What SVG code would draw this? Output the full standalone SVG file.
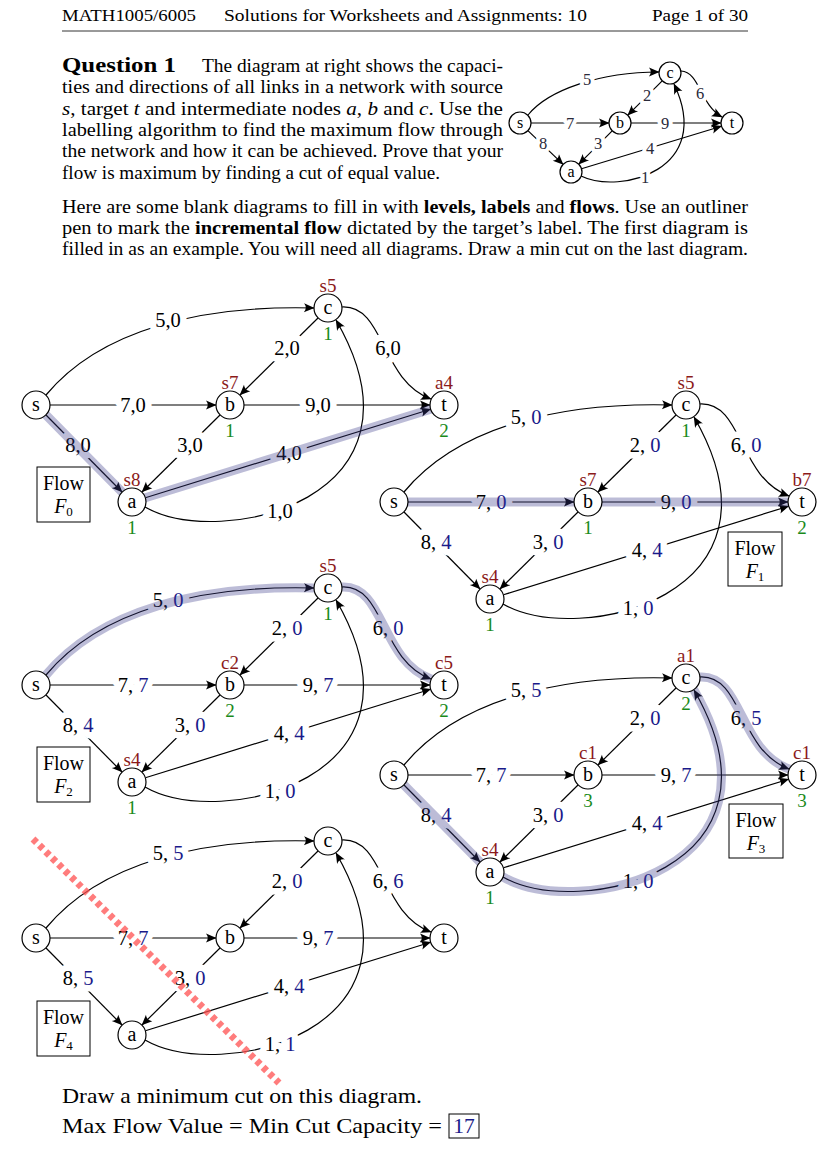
<svg xmlns="http://www.w3.org/2000/svg" xmlns:xlink="http://www.w3.org/1999/xlink" width="837" height="1152" viewBox="0 0 837 1152">
<style>
text{font-family:"Liberation Serif","Times New Roman",serif;fill:#000}
.tx{font-size:18px}
.ft{font-size:21.5px}
.hd{font-size:17px}
.nd{fill:#fff;stroke:#000;stroke-width:1.2}
.nl{font-size:20px;text-anchor:middle}
.snl{font-size:16px;text-anchor:middle}
.e{fill:none;stroke:#000;stroke-width:1.2;marker-end:url(#ar)}
.hl{fill:none;stroke:#3a3a8a;stroke-opacity:.34;stroke-width:9;stroke-linecap:round}
.lb{font-size:20.5px;text-anchor:middle;stroke:#fff;stroke-width:13;stroke-linejoin:round;paint-order:stroke}
.slb{font-size:16.5px;text-anchor:middle;fill:#2a2a3a;stroke:#fff;stroke-width:8;stroke-linejoin:round;paint-order:stroke}
.fv{fill:#1a1a8a}
.rl{font-size:19px;text-anchor:middle;fill:#8b1a1a}
.gl{font-size:19px;text-anchor:middle;fill:#1a8a1a}
.box{fill:none;stroke:#000;stroke-width:1}
.bt{font-size:20px;text-anchor:middle}
.it{font-style:italic}
.b{font-weight:bold}
</style>
<defs>
<marker id="ar" viewBox="-11 -6 12 12" refX="0" refY="0" markerWidth="12" markerHeight="12" orient="auto" markerUnits="userSpaceOnUse">
<path d="M0.5,0 L-10,-4.5 Q-6.5,0 -10,4.5 Z" fill="#000"/>
</marker>
<path id="sc" d="M46,395 C100,330 200,305 314,308"/>
<path id="ct" d="M342,307 C385,305 380,380 431,399"/>
<path id="cb" d="M318,318 L240,395"/>
<path id="sb" d="M50,405 L216,405"/>
<path id="bt" d="M244,405 L430,405"/>
<path id="ba" d="M220,415 L142,492"/>
<path id="sa" d="M46,415 L122,492"/>
<path id="at" d="M145.4,497.8 L430.6,409.2"/>
<path id="ac" d="M145,507 C220,550 440,500 336,320"/>
</defs>
<rect width="837" height="1152" fill="#fff"/>

<g id="header">
<text class="hd" x="62" y="21" textLength="134" lengthAdjust="spacingAndGlyphs">MATH1005/6005</text>
<text class="hd" x="224" y="21" textLength="363" lengthAdjust="spacingAndGlyphs">Solutions for Worksheets and Assignments: 10</text>
<text class="hd" x="652" y="21" textLength="96" lengthAdjust="spacingAndGlyphs">Page 1 of 30</text>
<line x1="62" y1="31" x2="748" y2="31" stroke="#000" stroke-width="0.8"/>
</g>

<g id="question">
<text class="b" x="62" y="72" font-size="21" textLength="114" lengthAdjust="spacingAndGlyphs">Question 1</text>
<text class="tx" x="202" y="72" textLength="301" lengthAdjust="spacingAndGlyphs">The diagram at right shows the capaci-</text>
<text class="tx" x="62" y="93.3" textLength="441" lengthAdjust="spacingAndGlyphs">ties and directions of all links in a network with source</text>
<text class="tx" x="62" y="114.6" textLength="441" lengthAdjust="spacingAndGlyphs"><tspan class="it">s</tspan>, target <tspan class="it">t</tspan> and intermediate nodes <tspan class="it">a</tspan>, <tspan class="it">b</tspan> and <tspan class="it">c</tspan>. Use the</text>
<text class="tx" x="62" y="136" textLength="441" lengthAdjust="spacingAndGlyphs">labelling algorithm to find the maximum flow through</text>
<text class="tx" x="62" y="157.3" textLength="441" lengthAdjust="spacingAndGlyphs">the network and how it can be achieved. Prove that your</text>
<text class="tx" x="62" y="178.6" textLength="378" lengthAdjust="spacingAndGlyphs">flow is maximum by finding a cut of equal value.</text>
<text class="tx" x="62" y="213" textLength="686" lengthAdjust="spacingAndGlyphs">Here are some blank diagrams to fill in with <tspan class="b">levels, labels</tspan> and <tspan class="b">flows</tspan>. Use an outliner</text>
<text class="tx" x="62" y="234" textLength="686" lengthAdjust="spacingAndGlyphs">pen to mark the <tspan class="b">incremental flow</tspan> dictated by the target’s label. The first diagram is</text>
<text class="tx" x="62" y="255" textLength="686" lengthAdjust="spacingAndGlyphs">filled in as an example. You will need all diagrams. Draw a min cut on the last diagram.</text>
</g>

<g id="small">
<g id="small-connectors">
<path class="e" d="M528,115 C548,90 600,72 659,72"/>
<path class="e" d="M681,71 C700,72 700,105 722,117"/>
<path class="e" d="M662.2,80.8 L627.8,115.2"/>
<path class="e" d="M531,123 L609,123"/>
<path class="e" d="M631,123 L721,123"/>
<path class="e" d="M612.2,130.8 L578.8,164.2"/>
<path class="e" d="M527.9,130.6 L563.1,164.4"/>
<path class="e" d="M581.5,168.8 L721.5,126.2"/>
<path class="e" d="M581,176 C620,195 715,170 674,84"/>
<text class="slb" x="587" y="84.5">5</text>
<text class="slb" x="647" y="100.5">2</text>
<text class="slb" x="700" y="98.5">6</text>
<text class="slb" x="570" y="128.5">7</text>
<text class="slb" x="665" y="128.5">9</text>
<text class="slb" x="543" y="148.5">8</text>
<text class="slb" x="598" y="148.5">3</text>
<text class="slb" x="650" y="153.5">4</text>
<text class="slb" x="645" y="182.5">1</text>
</g>
<g id="small-s"><circle class="nd" cx="520" cy="123" r="11"/><text class="snl" x="520" y="128">s</text></g>
<g id="small-b"><circle class="nd" cx="620" cy="123" r="11"/><text class="snl" x="620" y="128">b</text></g>
<g id="small-t"><circle class="nd" cx="732" cy="123" r="11"/><text class="snl" x="732" y="128">t</text></g>
<g id="small-c"><circle class="nd" cx="670" cy="73" r="11"/><text class="snl" x="670" y="78">c</text></g>
<g id="small-a"><circle class="nd" cx="571" cy="172" r="11"/><text class="snl" x="571" y="177">a</text></g>
</g>

<!-- Flow F0 -->
<g id="flow0">
<g id="f0-connectors">
<use xlink:href="#sc" class="e"/><use xlink:href="#ct" class="e"/><use xlink:href="#cb" class="e"/>
<use xlink:href="#sb" class="e"/><use xlink:href="#bt" class="e"/><use xlink:href="#ba" class="e"/>
<use xlink:href="#sa" class="e"/><use xlink:href="#at" class="e"/><use xlink:href="#ac" class="e"/>
<text class="lb" x="168" y="327">5,0</text>
<text class="lb" x="287" y="355">2,0</text>
<text class="lb" x="388" y="355">6,0</text>
<text class="lb" x="133" y="412">7,0</text>
<text class="lb" x="318" y="412">9,0</text>
<text class="lb" x="78" y="452">8,0</text>
<text class="lb" x="190" y="452">3,0</text>
<text class="lb" x="289" y="460">4,0</text>
<text class="lb" x="280" y="518">1,0</text>
<use xlink:href="#sa" class="hl"/><use xlink:href="#at" class="hl"/>
</g>
<g id="f0-s"><circle class="nd" cx="36" cy="405" r="14"/><text class="nl" x="36" y="410.5">s</text></g>
<g id="f0-b"><circle class="nd" cx="230" cy="405" r="14"/><text class="nl" x="230" y="410.5">b</text><text class="rl" x="230" y="389">s7</text><text class="gl" x="230" y="437">1</text></g>
<g id="f0-t"><circle class="nd" cx="444" cy="405" r="14"/><text class="nl" x="444" y="410.5">t</text><text class="rl" x="444" y="389">a4</text><text class="gl" x="444" y="437">2</text></g>
<g id="f0-c"><circle class="nd" cx="328" cy="308" r="14"/><text class="nl" x="328" y="313.5">c</text><text class="rl" x="328" y="292">s5</text><text class="gl" x="328" y="340">1</text></g>
<g id="f0-a"><circle class="nd" cx="132" cy="502" r="14"/><text class="nl" x="132" y="507.5">a</text><text class="rl" x="132" y="486">s8</text><text class="gl" x="132" y="534">1</text></g>
<g id="f0-box"><rect class="box" x="37" y="467" width="53" height="55"/><text class="bt" x="63.5" y="490">Flow</text><text class="bt" x="63.5" y="513"><tspan class="it">F</tspan><tspan font-size="13" dy="3">0</tspan></text></g>
</g>

<!-- Flow F1 -->
<g id="flow1" transform="translate(358,97)">
<g id="f1-connectors">
<use xlink:href="#sc" class="e"/><use xlink:href="#ct" class="e"/><use xlink:href="#cb" class="e"/>
<use xlink:href="#sb" class="e"/><use xlink:href="#bt" class="e"/><use xlink:href="#ba" class="e"/>
<use xlink:href="#sa" class="e"/><use xlink:href="#at" class="e"/><use xlink:href="#ac" class="e"/>
<text class="lb" x="168" y="327">5, <tspan class="fv">0</tspan></text>
<text class="lb" x="287" y="355">2, <tspan class="fv">0</tspan></text>
<text class="lb" x="388" y="355">6, <tspan class="fv">0</tspan></text>
<text class="lb" x="133" y="412">7, <tspan class="fv">0</tspan></text>
<text class="lb" x="318" y="412">9, <tspan class="fv">0</tspan></text>
<text class="lb" x="78" y="452">8, <tspan class="fv">4</tspan></text>
<text class="lb" x="190" y="452">3, <tspan class="fv">0</tspan></text>
<text class="lb" x="289" y="460">4, <tspan class="fv">4</tspan></text>
<text class="lb" x="280" y="518">1, <tspan class="fv">0</tspan></text>
<use xlink:href="#sb" class="hl"/><use xlink:href="#bt" class="hl"/>
</g>
<g id="f1-s"><circle class="nd" cx="36" cy="405" r="14"/><text class="nl" x="36" y="410.5">s</text></g>
<g id="f1-b"><circle class="nd" cx="230" cy="405" r="14"/><text class="nl" x="230" y="410.5">b</text><text class="rl" x="230" y="389">s7</text><text class="gl" x="230" y="437">1</text></g>
<g id="f1-t"><circle class="nd" cx="444" cy="405" r="14"/><text class="nl" x="444" y="410.5">t</text><text class="rl" x="444" y="389">b7</text><text class="gl" x="444" y="437">2</text></g>
<g id="f1-c"><circle class="nd" cx="328" cy="308" r="14"/><text class="nl" x="328" y="313.5">c</text><text class="rl" x="328" y="292">s5</text><text class="gl" x="328" y="340">1</text></g>
<g id="f1-a"><circle class="nd" cx="132" cy="502" r="14"/><text class="nl" x="132" y="507.5">a</text><text class="rl" x="132" y="486">s4</text><text class="gl" x="132" y="534">1</text></g>
<g id="f1-box"><rect class="box" x="370" y="435" width="54" height="54"/><text class="bt" x="397" y="458">Flow</text><text class="bt" x="397" y="481"><tspan class="it">F</tspan><tspan font-size="13" dy="3">1</tspan></text></g>
</g>

<!-- Flow F2 -->
<g id="flow2" transform="translate(0,280)">
<g id="f2-connectors">
<use xlink:href="#sc" class="e"/><use xlink:href="#ct" class="e"/><use xlink:href="#cb" class="e"/>
<use xlink:href="#sb" class="e"/><use xlink:href="#bt" class="e"/><use xlink:href="#ba" class="e"/>
<use xlink:href="#sa" class="e"/><use xlink:href="#at" class="e"/><use xlink:href="#ac" class="e"/>
<text class="lb" x="168" y="327">5, <tspan class="fv">0</tspan></text>
<text class="lb" x="287" y="355">2, <tspan class="fv">0</tspan></text>
<text class="lb" x="388" y="355">6, <tspan class="fv">0</tspan></text>
<text class="lb" x="133" y="412">7, <tspan class="fv">7</tspan></text>
<text class="lb" x="318" y="412">9, <tspan class="fv">7</tspan></text>
<text class="lb" x="78" y="452">8, <tspan class="fv">4</tspan></text>
<text class="lb" x="190" y="452">3, <tspan class="fv">0</tspan></text>
<text class="lb" x="289" y="460">4, <tspan class="fv">4</tspan></text>
<text class="lb" x="280" y="518">1, <tspan class="fv">0</tspan></text>
<use xlink:href="#sc" class="hl"/><use xlink:href="#ct" class="hl"/>
</g>
<g id="f2-s"><circle class="nd" cx="36" cy="405" r="14"/><text class="nl" x="36" y="410.5">s</text></g>
<g id="f2-b"><circle class="nd" cx="230" cy="405" r="14"/><text class="nl" x="230" y="410.5">b</text><text class="rl" x="230" y="389">c2</text><text class="gl" x="230" y="437">2</text></g>
<g id="f2-t"><circle class="nd" cx="444" cy="405" r="14"/><text class="nl" x="444" y="410.5">t</text><text class="rl" x="444" y="389">c5</text><text class="gl" x="444" y="437">2</text></g>
<g id="f2-c"><circle class="nd" cx="328" cy="308" r="14"/><text class="nl" x="328" y="313.5">c</text><text class="rl" x="328" y="292">s5</text><text class="gl" x="328" y="340">1</text></g>
<g id="f2-a"><circle class="nd" cx="132" cy="502" r="14"/><text class="nl" x="132" y="507.5">a</text><text class="rl" x="132" y="486">s4</text><text class="gl" x="132" y="534">1</text></g>
<g id="f2-box"><rect class="box" x="37" y="467" width="53" height="55"/><text class="bt" x="63.5" y="490">Flow</text><text class="bt" x="63.5" y="513"><tspan class="it">F</tspan><tspan font-size="13" dy="3">2</tspan></text></g>
</g>

<!-- Flow F3 -->
<g id="flow3" transform="translate(358,370)">
<g id="f3-connectors">
<use xlink:href="#sc" class="e"/><use xlink:href="#ct" class="e"/><use xlink:href="#cb" class="e"/>
<use xlink:href="#sb" class="e"/><use xlink:href="#bt" class="e"/><use xlink:href="#ba" class="e"/>
<use xlink:href="#sa" class="e"/><use xlink:href="#at" class="e"/><use xlink:href="#ac" class="e"/>
<text class="lb" x="168" y="327">5, <tspan class="fv">5</tspan></text>
<text class="lb" x="287" y="355">2, <tspan class="fv">0</tspan></text>
<text class="lb" x="388" y="355">6, <tspan class="fv">5</tspan></text>
<text class="lb" x="133" y="412">7, <tspan class="fv">7</tspan></text>
<text class="lb" x="318" y="412">9, <tspan class="fv">7</tspan></text>
<text class="lb" x="78" y="452">8, <tspan class="fv">4</tspan></text>
<text class="lb" x="190" y="452">3, <tspan class="fv">0</tspan></text>
<text class="lb" x="289" y="460">4, <tspan class="fv">4</tspan></text>
<text class="lb" x="280" y="518">1, <tspan class="fv">0</tspan></text>
<use xlink:href="#sa" class="hl"/><use xlink:href="#ac" class="hl"/><use xlink:href="#ct" class="hl"/>
</g>
<g id="f3-s"><circle class="nd" cx="36" cy="405" r="14"/><text class="nl" x="36" y="410.5">s</text></g>
<g id="f3-b"><circle class="nd" cx="230" cy="405" r="14"/><text class="nl" x="230" y="410.5">b</text><text class="rl" x="230" y="389">c1</text><text class="gl" x="230" y="437">3</text></g>
<g id="f3-t"><circle class="nd" cx="444" cy="405" r="14"/><text class="nl" x="444" y="410.5">t</text><text class="rl" x="444" y="389">c1</text><text class="gl" x="444" y="437">3</text></g>
<g id="f3-c"><circle class="nd" cx="328" cy="308" r="14"/><text class="nl" x="328" y="313.5">c</text><text class="rl" x="328" y="292">a1</text><text class="gl" x="328" y="340">2</text></g>
<g id="f3-a"><circle class="nd" cx="132" cy="502" r="14"/><text class="nl" x="132" y="507.5">a</text><text class="rl" x="132" y="486">s4</text><text class="gl" x="132" y="534">1</text></g>
<g id="f3-box"><rect class="box" x="371" y="434" width="54" height="54"/><text class="bt" x="398" y="457">Flow</text><text class="bt" x="398" y="480"><tspan class="it">F</tspan><tspan font-size="13" dy="3">3</tspan></text></g>
</g>

<!-- Flow F4 -->
<g id="flow4" transform="translate(0,533)">
<g id="f4-connectors">
<use xlink:href="#sc" class="e"/><use xlink:href="#ct" class="e"/><use xlink:href="#cb" class="e"/>
<use xlink:href="#sb" class="e"/><use xlink:href="#bt" class="e"/><use xlink:href="#ba" class="e"/>
<use xlink:href="#sa" class="e"/><use xlink:href="#at" class="e"/><use xlink:href="#ac" class="e"/>
<text class="lb" x="168" y="327">5, <tspan class="fv">5</tspan></text>
<text class="lb" x="287" y="355">2, <tspan class="fv">0</tspan></text>
<text class="lb" x="388" y="355">6, <tspan class="fv">6</tspan></text>
<text class="lb" x="133" y="412">7, <tspan class="fv">7</tspan></text>
<text class="lb" x="318" y="412">9, <tspan class="fv">7</tspan></text>
<text class="lb" x="78" y="452">8, <tspan class="fv">5</tspan></text>
<text class="lb" x="190" y="452">3, <tspan class="fv">0</tspan></text>
<text class="lb" x="289" y="460">4, <tspan class="fv">4</tspan></text>
<text class="lb" x="280" y="518">1, <tspan class="fv">1</tspan></text>
</g>
<g id="f4-s"><circle class="nd" cx="36" cy="405" r="14"/><text class="nl" x="36" y="410.5">s</text></g>
<g id="f4-b"><circle class="nd" cx="230" cy="405" r="14"/><text class="nl" x="230" y="410.5">b</text></g>
<g id="f4-t"><circle class="nd" cx="444" cy="405" r="14"/><text class="nl" x="444" y="410.5">t</text></g>
<g id="f4-c"><circle class="nd" cx="328" cy="308" r="14"/><text class="nl" x="328" y="313.5">c</text></g>
<g id="f4-a"><circle class="nd" cx="132" cy="502" r="14"/><text class="nl" x="132" y="507.5">a</text></g>
<g id="f4-box"><rect class="box" x="37" y="468" width="53" height="55"/><text class="bt" x="63.5" y="491">Flow</text><text class="bt" x="63.5" y="514"><tspan class="it">F</tspan><tspan font-size="13" dy="3">4</tspan></text></g>
</g>

<g id="min-cut">
<line x1="33" y1="839" x2="279" y2="1083" stroke="#ff5050" stroke-opacity="0.75" stroke-width="7" stroke-dasharray="5 4"/>
</g>

<g id="footer">
<text class="ft" x="62" y="1103" textLength="360" lengthAdjust="spacingAndGlyphs">Draw a minimum cut on this diagram.</text>
<text class="ft" x="62" y="1133" textLength="380" lengthAdjust="spacingAndGlyphs">Max Flow Value = Min Cut Capacity =</text>
<rect class="box" x="449" y="1114" width="30" height="24"/>
<text class="ft fv" x="464" y="1133" text-anchor="middle">17</text>
</g>
</svg>
